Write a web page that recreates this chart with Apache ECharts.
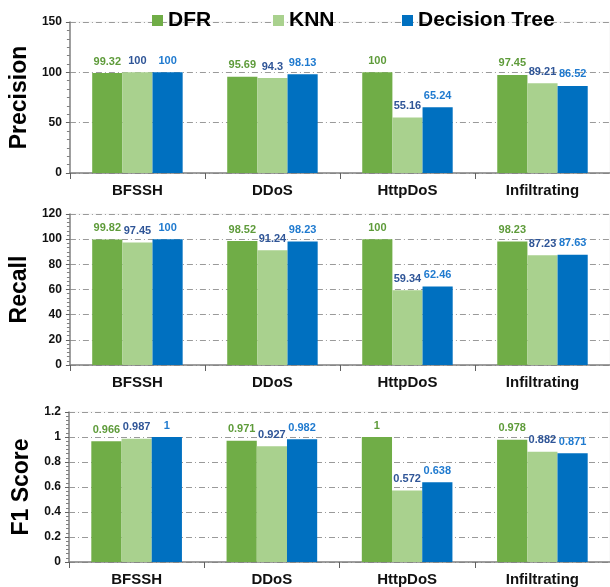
<!DOCTYPE html>
<html>
<head>
<meta charset="utf-8">
<script src="https://cdn.jsdelivr.net/npm/echarts@6/dist/echarts.min.js"></script>
<style>
html,body{margin:0;padding:0;background:#fff;}
#chart{width:610px;height:587px;}
</style>
</head>
<body>
<div id="chart"></div>
<script>
const categories = ['BFSSH', 'DDoS', 'HttpDoS', 'Infiltrating'];
const seriesNames = ['DFR', 'KNN', 'Decision Tree'];
const panelTitles = ['Precision', 'Recall', 'F1 Score'];

const precisionDFR = [99.32, 95.69, 100, 97.45];
const precisionKNN = [100, 94.3, 55.16, 89.21];
const precisionDT  = [100, 98.13, 65.24, 86.52];

const recallDFR = [99.82, 98.52, 100, 98.23];
const recallKNN = [97.45, 91.24, 59.34, 87.23];
const recallDT  = [100, 98.23, 62.46, 87.63];

const f1DFR = [0.966, 0.971, 1, 0.978];
const f1KNN = [0.987, 0.927, 0.572, 0.882];
const f1DT  = [1, 0.982, 0.638, 0.871];

const axisMax = [150, 120, 1.2];
const axisInterval = [50, 20, 0.2];

const panels = [
  [precisionDFR, precisionKNN, precisionDT],
  [recallDFR, recallKNN, recallDT],
  [f1DFR, f1KNN, f1DT]
];

const barColors = ['#70AD47', '#A9D18E', '#0070C0'];
const labelColors = ['#5E9B3A', '#2F5597', '#1F7ACF'];
const gridTops = [22, 214, 412];
const gridH = 151;
const FONT = "'Liberation Sans', Arial, sans-serif";

const grids = [], xAxes = [], yAxes = [], series = [];
panels.forEach((panel, p) => {
  grids.push({left: 69, right: 0, top: gridTops[p], height: gridH,
    show: true, borderColor: '#f2f2f2', borderWidth: 1, backgroundColor: 'transparent'});
  xAxes.push({
    type: 'category', gridIndex: p, data: categories,
    axisLine: {lineStyle: {color: '#808080', width: 1.5}},
    axisTick: {show: true, length: 6, lineStyle: {color: '#606060', width: 1}},
    axisLabel: {color: '#111', fontSize: 15, fontWeight: 'bold', fontFamily: FONT, margin: 10},
    splitLine: {show: false}
  });
  yAxes.push({
    type: 'value', gridIndex: p, min: 0, max: axisMax[p], interval: axisInterval[p],
    name: panelTitles[p], nameLocation: 'middle', nameGap: 29, nameRotate: 90,
    nameTextStyle: {fontSize: 23, fontWeight: 'bold', color: '#000', fontFamily: FONT},
    axisLine: {show: true, lineStyle: {color: '#808080', width: 1.5}},
    axisTick: {show: true, length: 4, lineStyle: {color: '#606060'}},
    minorTick: {show: true, splitNumber: 6, length: 3, lineStyle: {color: '#808080'}},
    axisLabel: {color: '#111', fontSize: 12, fontWeight: 'bold', fontFamily: FONT, margin: 8},
    splitLine: {show: true, lineStyle: {color: '#9a9a9a', width: 1, type: [6, 3, 1, 3]}}
  });
  panel.forEach((vals, s) => {
    series.push({
      name: seriesNames[s], type: 'bar', xAxisIndex: p, yAxisIndex: p,
      data: vals, barGap: '0%', barCategoryGap: '33%',
      itemStyle: {color: barColors[s]},
      label: {show: true, position: 'top', distance: 6, color: labelColors[s],
        fontSize: 11, fontWeight: 'bold', fontFamily: FONT}
    });
  });
});

const legendLefts = [152, 273, 402];
const legends = seriesNames.map((n, i) => ({
  data: [n], top: 10, left: legendLefts[i], padding: 0,
  itemWidth: 11, itemHeight: 11, icon: 'rect',
  textStyle: {fontSize: 21, fontWeight: 'bold', color: '#000', fontFamily: FONT}
}));

const chart = echarts.init(document.getElementById('chart'), null, {renderer: 'canvas'});
chart.setOption({
  animation: false,
  backgroundColor: '#fff',
  legend: legends,
  grid: grids, xAxis: xAxes, yAxis: yAxes, series: series
});
</script>
</body>
</html>
